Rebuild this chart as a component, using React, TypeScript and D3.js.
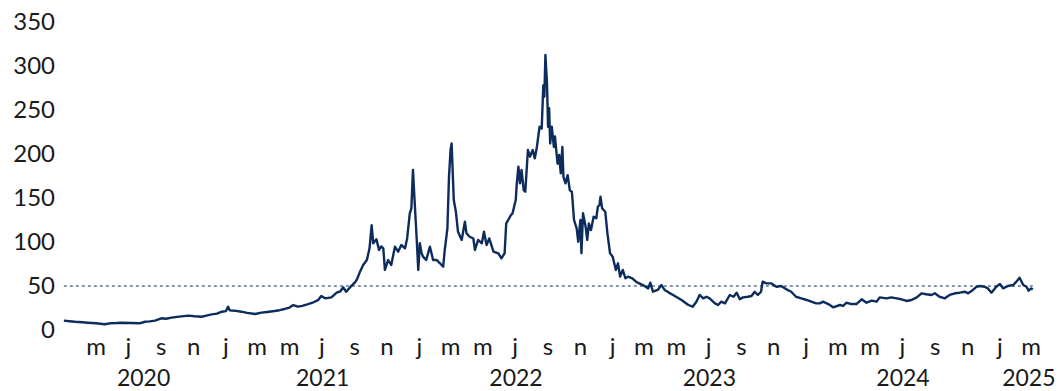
import React from "react";
import * as d3 from "d3";

type Pt = [string, number];

const series2020: Pt[] = [
  ["2020-03-01", 10.6], ["2020-03-12", 10], ["2020-03-22", 9.4], ["2020-04-05", 8.8], ["2020-04-15", 8.3],
  ["2020-05-01", 7.6], ["2020-05-17", 6.5], ["2020-05-27", 7.6], ["2020-06-08", 7.9], ["2020-06-18", 8.3],
  ["2020-07-05", 8], ["2020-07-22", 7.6], ["2020-08-01", 9.4], ["2020-08-10", 9.8], ["2020-08-20", 10.6],
  ["2020-09-01", 13.3], ["2020-09-10", 12.8], ["2020-09-20", 14], ["2020-10-05", 15.2], ["2020-10-22", 16.3],
  ["2020-11-03", 15.6], ["2020-11-16", 15.1], ["2020-11-25", 16.4], ["2020-12-05", 17.8], ["2020-12-15", 18.6],
  ["2020-12-24", 20.8],
];

const series2021: Pt[] = [
  ["2021-01-01", 21.5], ["2021-01-05", 26.5], ["2021-01-08", 22.5], ["2021-01-11", 22], ["2021-01-20", 21.8],
  ["2021-01-30", 20.8], ["2021-02-10", 19.5], ["2021-02-25", 18.2], ["2021-03-09", 19.7], ["2021-03-20", 20.5],
  ["2021-04-03", 21.6], ["2021-04-12", 22.5], ["2021-04-22", 23.9], ["2021-05-01", 25.5], ["2021-05-08", 28.4],
  ["2021-05-17", 26.5], ["2021-05-25", 27.5], ["2021-06-05", 29.5], ["2021-06-15", 31.5], ["2021-06-24", 34],
  ["2021-06-30", 38.6], ["2021-07-07", 36], ["2021-07-19", 37.1], ["2021-07-29", 42.4], ["2021-08-05", 44],
  ["2021-08-10", 48.5], ["2021-08-16", 43.5], ["2021-08-24", 49], ["2021-09-01", 53.8], ["2021-09-05", 57],
  ["2021-09-11", 66.3], ["2021-09-17", 73.9], ["2021-09-24", 79.5], ["2021-09-29", 92.8], ["2021-10-03", 119],
  ["2021-10-06", 98.5], ["2021-10-12", 103], ["2021-10-17", 90.9], ["2021-10-21", 95], ["2021-10-25", 92.8],
  ["2021-10-28", 68.2], ["2021-11-03", 79.5], ["2021-11-09", 73.9], ["2021-11-16", 94.7], ["2021-11-22", 89],
  ["2021-11-28", 96.6], ["2021-12-05", 92.8], ["2021-12-09", 104], ["2021-12-14", 132.6], ["2021-12-17", 138.3],
  ["2021-12-20", 182], ["2021-12-23", 147.7], ["2021-12-27", 104], ["2021-12-30", 68.2],
];

const series2022: Pt[] = [
  ["2022-01-02", 98.5], ["2022-01-05", 88], ["2022-01-08", 83.3], ["2022-01-14", 79.5], ["2022-01-21", 94.7],
  ["2022-01-27", 79.5], ["2022-02-03", 79.5], ["2022-02-09", 75.8], ["2022-02-15", 71.9], ["2022-02-18", 90.9],
  ["2022-02-23", 115.6], ["2022-02-26", 174], ["2022-03-01", 205], ["2022-03-03", 212], ["2022-03-07", 147.7],
  ["2022-03-11", 134.4], ["2022-03-15", 111.7], ["2022-03-22", 102.3], ["2022-03-28", 123], ["2022-03-31", 110],
  ["2022-04-06", 106], ["2022-04-13", 104], ["2022-04-16", 90.9], ["2022-04-22", 102.3], ["2022-04-29", 98.5],
  ["2022-05-03", 111.7], ["2022-05-08", 96.6], ["2022-05-13", 104], ["2022-05-21", 89], ["2022-05-30", 87.2],
  ["2022-06-05", 81.5], ["2022-06-11", 87.2], ["2022-06-14", 121], ["2022-06-23", 130.7], ["2022-06-26", 132.6],
  ["2022-07-02", 147.7], ["2022-07-04", 166.7], ["2022-07-07", 185.6], ["2022-07-10", 166.7], ["2022-07-13", 181.8],
  ["2022-07-17", 159], ["2022-07-20", 157.2], ["2022-07-25", 204.5], ["2022-07-29", 197], ["2022-08-03", 204.5],
  ["2022-08-07", 195], ["2022-08-11", 208.3], ["2022-08-16", 231], ["2022-08-20", 229], ["2022-08-23", 278],
  ["2022-08-25", 265], ["2022-08-27", 312.5], ["2022-08-30", 280], ["2022-09-01", 231], ["2022-09-03", 252],
  ["2022-09-05", 212], ["2022-09-08", 231], ["2022-09-12", 208], ["2022-09-14", 220], ["2022-09-17", 201],
  ["2022-09-19", 189], ["2022-09-22", 199], ["2022-09-25", 178], ["2022-09-28", 208], ["2022-09-30", 174],
  ["2022-10-04", 166.7], ["2022-10-08", 176], ["2022-10-12", 159], ["2022-10-16", 157], ["2022-10-20", 125],
  ["2022-10-25", 115.6], ["2022-10-28", 100.3], ["2022-11-01", 125], ["2022-11-03", 87.2], ["2022-11-06", 132.6],
  ["2022-11-11", 117], ["2022-11-14", 102.3], ["2022-11-17", 121], ["2022-11-21", 113.6], ["2022-11-26", 128.8],
  ["2022-12-01", 127], ["2022-12-04", 140], ["2022-12-07", 142], ["2022-12-09", 151.5], ["2022-12-12", 138.3],
  ["2022-12-18", 134.4], ["2022-12-22", 110], ["2022-12-27", 87.2],
];

const series2023: Pt[] = [
  ["2023-01-01", 83.3], ["2023-01-07", 68.2], ["2023-01-11", 75.8], ["2023-01-15", 60.6], ["2023-01-20", 68.2],
  ["2023-01-25", 58.8], ["2023-01-30", 60.6], ["2023-02-07", 58.8], ["2023-02-14", 54.9], ["2023-02-20", 53],
  ["2023-02-27", 51.1], ["2023-03-09", 47.3], ["2023-03-13", 53.8], ["2023-03-18", 43.5], ["2023-03-27", 45.5],
  ["2023-04-03", 51.1], ["2023-04-09", 45.5], ["2023-04-17", 42.5], ["2023-04-25", 39.8], ["2023-05-03", 37],
  ["2023-05-11", 34.1], ["2023-05-18", 31], ["2023-05-24", 28.4], ["2023-06-01", 26.5], ["2023-06-08", 32.2],
  ["2023-06-14", 39.8], ["2023-06-21", 36], ["2023-06-27", 37.8], ["2023-07-03", 36], ["2023-07-13", 30.3],
  ["2023-07-19", 28.4], ["2023-07-25", 32.2], ["2023-08-01", 30.3], ["2023-08-10", 39.8], ["2023-08-17", 37.8],
  ["2023-08-23", 42.4], ["2023-08-29", 34.9], ["2023-09-04", 37.1], ["2023-09-13", 37.8], ["2023-09-20", 38.6],
  ["2023-09-26", 43.5], ["2023-10-02", 39.8], ["2023-10-08", 43.5], ["2023-10-11", 54.9], ["2023-10-18", 53],
  ["2023-10-27", 53], ["2023-11-06", 49.2], ["2023-11-15", 50], ["2023-11-25", 46.2], ["2023-12-04", 43.5],
  ["2023-12-13", 37.8], ["2023-12-23", 36],
];

const series2024: Pt[] = [
  ["2024-01-02", 34.1], ["2024-01-11", 32.2], ["2024-01-20", 30.3], ["2024-01-27", 30.3], ["2024-02-02", 32.2],
  ["2024-02-12", 29.5], ["2024-02-21", 25.8], ["2024-03-05", 28.4], ["2024-03-11", 27.3], ["2024-03-17", 31],
  ["2024-03-27", 29.5], ["2024-04-05", 29.5], ["2024-04-15", 34.9], ["2024-04-24", 31], ["2024-05-04", 33.3],
  ["2024-05-13", 32.2], ["2024-05-19", 37.1], ["2024-06-01", 36], ["2024-06-10", 37.1], ["2024-06-20", 36],
  ["2024-06-29", 34.9], ["2024-07-09", 33], ["2024-07-18", 34.1], ["2024-07-28", 37.1], ["2024-08-06", 41.7],
  ["2024-08-15", 40.6], ["2024-08-25", 39.8], ["2024-08-31", 41.7], ["2024-09-09", 37.8], ["2024-09-19", 36],
  ["2024-09-28", 39.8], ["2024-10-08", 41.7], ["2024-10-17", 42.4], ["2024-10-27", 43.5], ["2024-11-02", 41.7],
  ["2024-11-11", 45.5], ["2024-11-18", 49.2], ["2024-11-24", 50], ["2024-12-03", 49.2], ["2024-12-09", 47.3],
  ["2024-12-16", 42.4], ["2024-12-25", 49.2],
];

const series2025: Pt[] = [
  ["2025-01-01", 52.3], ["2025-01-07", 47.3], ["2025-01-16", 50], ["2025-01-26", 51.1], ["2025-02-01", 54.9],
  ["2025-02-07", 59.4], ["2025-02-14", 51.1], ["2025-02-20", 49.2], ["2025-02-24", 44.7], ["2025-03-01", 47.3],
  ["2025-03-04", 46],
];

const yTicks = [0, 50, 100, 150, 200, 250, 300, 350];
const referenceLevel = 50;
const monthLetters = ["j", "f", "m", "a", "m", "j", "j", "a", "s", "o", "n", "d"];
const monthTickDates = [
  "2020-05-01", "2020-07-01", "2020-09-01", "2020-11-01",
  "2021-01-01", "2021-03-01", "2021-05-01", "2021-07-01", "2021-09-01", "2021-11-01",
  "2022-01-01", "2022-03-01", "2022-05-01", "2022-07-01", "2022-09-01", "2022-11-01",
  "2023-01-01", "2023-03-01", "2023-05-01", "2023-07-01", "2023-09-01", "2023-11-01",
  "2024-01-01", "2024-03-01", "2024-05-01", "2024-07-01", "2024-09-01", "2024-11-01",
  "2025-01-01", "2025-03-01",
];
const years = [2020, 2021, 2022, 2023, 2024, 2025];
const axisStart = "2020-02-25";
const axisEnd = "2025-04-20";

const W = 1059;
const H = 391;
const NAVY = "#0d2c5c";
const TEXT = "#1a1a1a";
const FONT = "Lato, 'Open Sans', sans-serif";

export default function App() {
  const parse = d3.utcParse("%Y-%m-%d");
  const all = [...series2020, ...series2021, ...series2022, ...series2023, ...series2024, ...series2025].map(
    ([d, v]) => ({ date: parse(d) as Date, value: v })
  );
  const x = d3
    .scaleUtc()
    .domain([parse(axisStart) as Date, parse(axisEnd) as Date])
    .range([61.2, 1057.7]);
  const y = d3.scaleLinear().domain([0, 350]).range([330, 22]);

  const line = d3
    .line<{ date: Date; value: number }>()
    .x((d) => x(d.date))
    .y((d) => y(d.value));

  const first = all[0].date;
  const last = all[all.length - 1].date;
  const [d0, d1] = x.domain();

  return (
    <div style={{ position: "absolute", left: 0, top: 0 }}>
      <svg width={W} height={H} style={{ display: "block", background: "#fff" }}>
        {yTicks.map((t) => (
          <text
            key={t}
            x={55}
            y={y(t) - 1.5}
            textAnchor="end"
            dominantBaseline="central"
            fontFamily={FONT}
            fontSize={24}
            fill={TEXT}
          >
            {t}
          </text>
        ))}
        <line
          x1={x(first)}
          x2={x(last)}
          y1={y(referenceLevel)}
          y2={y(referenceLevel)}
          stroke={NAVY}
          strokeWidth={1}
          strokeDasharray="3,3"
        />
        <path d={line(all) || ""} fill="none" stroke={NAVY} strokeWidth={2.4} strokeLinejoin="round" />
        {monthTickDates.map((s) => {
          const d = parse(s) as Date;
          return (
            <text
              key={s}
              x={x(d)}
              y={355}
              textAnchor="middle"
              fontFamily={FONT}
              fontSize={24}
              fill={TEXT}
            >
              {monthLetters[d.getUTCMonth()]}
            </text>
          );
        })}
        {years.map((yr) => {
          const a = new Date(Math.max(Date.UTC(yr, 0, 1), d0.getTime()));
          const b = new Date(Math.min(Date.UTC(yr + 1, 0, 1), d1.getTime()));
          return (
            <text
              key={yr}
              x={(x(a) + x(b)) / 2}
              y={386}
              textAnchor="middle"
              fontFamily={FONT}
              fontSize={23}
              fill={TEXT}
            >
              {yr}
            </text>
          );
        })}
      </svg>
    </div>
  );
}
